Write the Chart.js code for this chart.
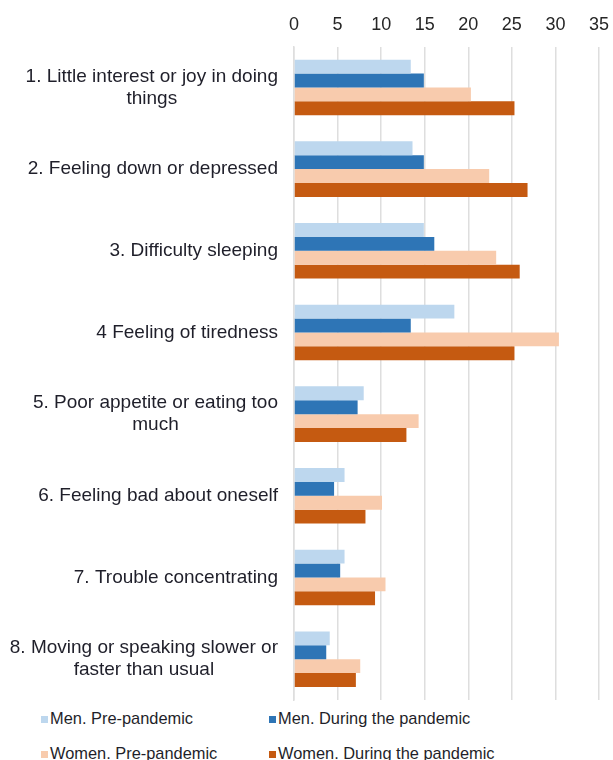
<!DOCTYPE html>
<html>
<head>
    <title>Symptoms before and during the pandemic</title>
    <script src="https://cdn.jsdelivr.net/npm/chart.js"></script>
    <style>
        body {
            margin: 0;
            background: #fff;
            font-family: "Liberation Sans", Arial, sans-serif;
        }

        .wrap {
            position: relative;
            width: 613px;
            height: 760px;
            overflow: hidden;
        }

        .legend {
            position: absolute;
            left: 41px;
            top: 709px;
            width: 560px;
        }

        .legend .item {
            position: absolute;
            font-size: 16.4px;
            color: #1f1f2a;
            white-space: nowrap;
        }

        .legend .box {
            display: inline-block;
            width: 7px;
            height: 7px;
            margin-right: 2px;
            vertical-align: 1px;
        }
    </style>
</head>

<body>
    <div class="wrap">
        <canvas id="chart" width="613" height="706"></canvas>
        <div class="legend" id="legend"></div>
    </div>

    <script>
        const categories = [
            ["1. Little interest or joy in doing", "things"],
            ["2. Feeling down or depressed"],
            ["3. Difficulty sleeping"],
            ["4 Feeling of tiredness"],
            ["5. Poor appetite or eating too", "much"],
            ["6. Feeling bad about oneself"],
            ["7. Trouble concentrating"],
            ["8. Moving or speaking slower or", "faster than usual"]
        ];

        const menPre = [13.4, 13.6, 14.9, 18.4, 8.0, 5.8, 5.8, 4.1];
        const menDuring = [14.9, 14.9, 16.1, 13.4, 7.3, 4.6, 5.3, 3.7];
        const womenPre = [20.3, 22.4, 23.2, 30.4, 14.3, 10.1, 10.5, 7.6];
        const womenDuring = [25.3, 26.8, 25.9, 25.3, 12.9, 8.2, 9.3, 7.1];

        const xTicks = [0, 5, 10, 15, 20, 25, 30, 35];

        const seriesNames = [
            "Men. Pre-pandemic",
            "Men. During the pandemic",
            "Women. Pre-pandemic",
            "Women. During the pandemic"
        ];
        const seriesColors = ["#BDD7EE", "#2E75B6", "#F8CBAD", "#C55A11"];
        const seriesData = [menPre, menDuring, womenPre, womenDuring];

        // category labels drawn like Excel: block right aligned, lines centred in the block
        const categoryLabels = {
            id: "categoryLabels",
            afterDraw(chart) {
                const ctx = chart.ctx;
                const yScale = chart.scales.y;
                const right = chart.chartArea.left - 16;
                const lineH = 22;
                ctx.save();
                ctx.font = "19px 'Liberation Sans', Arial, sans-serif";
                ctx.fillStyle = "#1f1f2a";
                ctx.textAlign = "center";
                ctx.textBaseline = "middle";
                categories.forEach((lines, i) => {
                    const yc = yScale.getPixelForValue(i);
                    const w = Math.max(...lines.map(l => ctx.measureText(l).width));
                    const xc = right - w / 2;
                    const y0 = yc - (lines.length - 1) * lineH / 2;
                    lines.forEach((l, k) => ctx.fillText(l, xc, y0 + k * lineH));
                });
                ctx.restore();
            }
        };

        const ctx = document.getElementById("chart").getContext("2d");
        new Chart(ctx, {
            type: "bar",
            data: {
                labels: categories.map(c => c.join(" ")),
                datasets: seriesData.map((d, i) => ({
                    label: seriesNames[i],
                    data: d,
                    backgroundColor: seriesColors[i],
                    borderWidth: 0,
                    barPercentage: 1,
                    categoryPercentage: 0.68
                }))
            },
            options: {
                indexAxis: "y",
                responsive: false,
                animation: false,
                layout: {
                    padding: { top: 3, right: 0, bottom: 6, left: 0 }
                },
                plugins: {
                    legend: { display: false },
                    tooltip: { enabled: false }
                },
                scales: {
                    x: {
                        position: "top",
                        min: 0,
                        max: 35,
                        afterBuildTicks: scale => {
                            scale.ticks = xTicks.map(v => ({ value: v }));
                        },
                        afterFit: scale => {
                            scale.paddingRight = 14;
                        },
                        ticks: {
                            font: { family: "'Liberation Sans', Arial, sans-serif", size: 18 },
                            color: "#262626",
                            padding: 11
                        },
                        grid: {
                            color: "#dedede",
                            lineWidth: 1.5,
                            drawTicks: false
                        },
                        border: { display: false }
                    },
                    y: {
                        ticks: { display: false },
                        grid: { display: false },
                        border: { color: "#dedede", width: 1.5 },
                        afterFit: scale => {
                            scale.width = 294;
                        }
                    }
                }
            },
            plugins: [categoryLabels]
        });

        // legend in two columns
        const legend = document.getElementById("legend");
        const legendPos = [[0, 0], [228, 0], [0, 35], [228, 35]];
        seriesNames.forEach((name, i) => {
            const item = document.createElement("div");
            item.className = "item";
            item.style.left = legendPos[i][0] + "px";
            item.style.top = legendPos[i][1] + "px";
            item.innerHTML = '<span class="box" style="background:' + seriesColors[i] + '"></span>' + name;
            legend.appendChild(item);
        });
    </script>
</body>
</html>
